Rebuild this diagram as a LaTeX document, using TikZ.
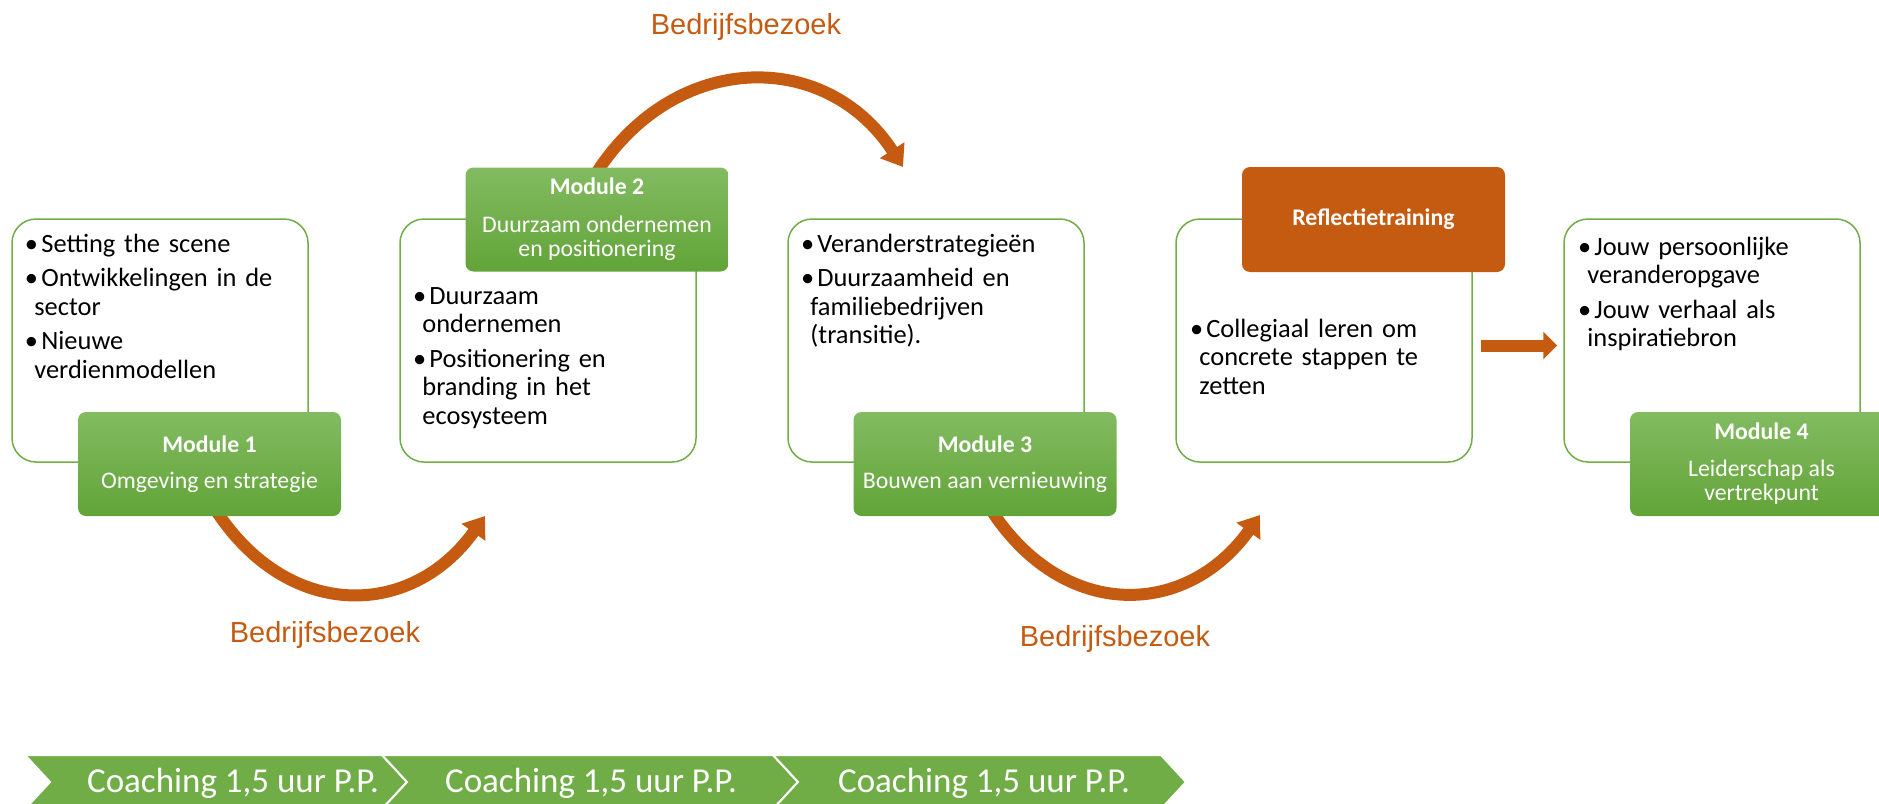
\documentclass[tikz,border=0pt]{standalone}
\usepackage{fontspec}
\setmainfont{Carlito}
\newfontfamily\arialfont{Liberation Sans}
\usetikzlibrary{arrows.meta}

\definecolor{oranje}{RGB}{197,90,17}
\definecolor{groen}{RGB}{112,173,71}
\definecolor{groenlicht}{RGB}{130,187,97}
\definecolor{groendonker}{RGB}{98,164,56}

% opsommingsteken met hangende inspringing
\newcommand{\bul}[1]{\hangindent=3.5pt\hangafter=1\noindent\makebox[7pt][l]{\kern-1.2pt\textbullet}#1\par\vskip3pt}

\begin{document}
\begin{tikzpicture}[x=0.5pt,y=-0.5pt,
    kader/.style={draw=groen,line width=0.75pt,fill=white,rounded corners=12pt,minimum width=148pt,minimum height=121.5pt},
    module/.style={top color=groenlicht,bottom color=groendonker,rounded corners=4pt,minimum width=131.5pt,minimum height=52pt,text=white,align=center,font=\fontsize{11.9}{12}\selectfont},
    reflectie/.style={fill=oranje,rounded corners=4pt,minimum width=131.5pt,minimum height=52.5pt,text=white,font=\fontsize{11.9}{12}\selectfont\bfseries},
    lijst/.style={anchor=base west,inner sep=0pt,text width=140pt,align=left,font=\fontsize{13.2}{14.25}\selectfont},
    bezoek/.style={draw=oranje,line width=6pt,-{Triangle[length=10pt,width=14pt]}},
    bezoektekst/.style={anchor=base,inner sep=0pt,text=oranje,font=\arialfont\fontsize{14.5}{17}\selectfont},
    chevron/.style={fill=groen,draw=white,line width=1pt},
    coach/.style={anchor=base,inner sep=0pt,text=white,font=\fontsize{17.5}{20}\selectfont}]
    \useasboundingbox (0,0) rectangle (1879,803);
    \clip (0,0) rectangle (1879,803);

    % Kaders
    \node[kader] (box1) at (160,340.5) {};
    \node[kader] (box2) at (548,340.5) {};
    \node[kader] (box3) at (936,340.5) {};
    \node[kader] (box4) at (1324,340.5) {};
    \node[kader] (box5) at (1712,340.5) {};

    \node[lijst] (txt1) at (27,252) {\bul{Setting the scene}\bul{Ontwikkelingen in de\newline sector}\bul{Nieuwe\newline verdienmodellen}};
    \node[lijst] (txt2) at (415,304) {\bul{Duurzaam\newline ondernemen}\bul{Positionering en\newline branding in het\newline ecosysteem}};
    \node[lijst] (txt3) at (803,252) {\bul{Veranderstrategieën}\bul{Duurzaamheid en\newline familiebedrijven\newline (transitie).}};
    \node[lijst] (txt4) at (1192,337) {\bul{Collegiaal leren om\newline concrete stappen te\newline zetten}};
    \node[lijst] (txt5) at (1580,255) {\bul{Jouw persoonlijke\newline veranderopgave}\bul{Jouw verhaal als\newline inspiratiebron}};

    % Bedrijfsbezoeken
    \coordinate (pijl1) at (485,516);
    \coordinate (pijl2) at (903,167);
    \coordinate (pijl3) at (1260,515);
    \node (mod1) at (209.5,464) {};
    \node (mod2) at (597,219.5) {};
    \node (mod3) at (985,464) {};

    \draw[bezoek] ([yshift=8pt]mod1.center |- 0,516) .. controls +(72,122) and +(-75,105) .. (pijl1);
    \draw[bezoek] ([xshift=-2.5pt]mod2.center |- 0,180) .. controls +(78,-130) and +(-78,-120) .. (pijl2);
    \draw[bezoek] ([yshift=8pt]mod3.center |- 0,516) .. controls +(72,122) and +(-75,105) .. (pijl3);

    % Modules
    \node[module] (mod1) at (209.5,464) {\textbf{Module 1}\\[6pt]Omgeving en strategie};
    \node[module] (mod2) at (597,219.5) {\textbf{Module 2}\\[7pt]Duurzaam ondernemen\\en positionering};
    \node[module] (mod3) at (985,464) {\textbf{Module 3}\\[6pt]Bouwen aan vernieuwing};
    \node[module] (mod4) at (1761.5,464) {\textbf{Module 4}\\[6.5pt]Leiderschap als\\vertrekpunt};
    \node[reflectie] (refl) at (1373.5,219.5) {Reflectietraining};

    \draw[draw=oranje,line width=6pt,-{Triangle[length=7pt,width=13.5pt]},shorten <=4pt,shorten >=3pt] ([yshift=-2.5pt]box4.east) -- ([yshift=-2.5pt]box5.west);

    \node[bezoektekst] (lab1) at (325,642) {Bedrijfsbezoek};
    \node[bezoektekst] (lab2) at (746,34) {Bedrijfsbezoek};
    \node[bezoektekst] (lab3) at (1115,646) {Bedrijfsbezoek};

    % Coaching
    \fill[chevron] (25,755) -- (382,755) -- (407,782) -- (382,809) -- (25,809) -- (50,782) -- cycle;
    \fill[chevron] (382,755) -- (773,755) -- (798,782) -- (773,809) -- (382,809) -- (407,782) -- cycle;
    \fill[chevron] (773,755) -- (1161,755) -- (1186,782) -- (1161,809) -- (773,809) -- (798,782) -- cycle;
    \node[coach] (coach1) at (233,792) {Coaching 1,5 uur P.P.};
    \node[coach] (coach2) at (591,792) {Coaching 1,5 uur P.P.};
    \node[coach] (coach3) at (984,792) {Coaching 1,5 uur P.P.};
\end{tikzpicture}
\end{document}
